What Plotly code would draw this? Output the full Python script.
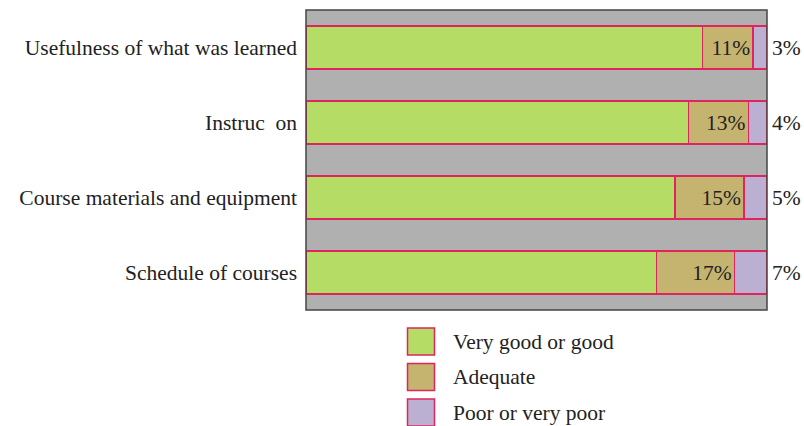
import plotly.graph_objects as go

categories = ["Usefulness of what was learned", "Instruc  on",
              "Course materials and equipment", "Schedule of courses"]
good = [86, 83, 80, 76]
adequate = [11, 13, 15, 17]
poor = [3, 4, 5, 7]
series_names = ["Very good or good", "Adequate", "Poor or very poor"]
colors = ["#b5dd66", "#c5b46f", "#bcb0d2"]
edge = "#e0245e"
FONT = "Liberation Serif"
FS = 21.5

W, H = 804, 426
L, R, T, B = 306, 37, 10, 116
pw, ph = W - L - R, H - T - B

def px(x):
    return (x - L) / pw

def py(y):
    return (H - B - y) / ph

fig = go.Figure()
fig.add_trace(go.Bar(y=categories, x=good, orientation="h", name=series_names[0],
                     marker=dict(color=colors[0], line=dict(color=edge, width=1.5)),
                     hoverinfo="x+y"))
fig.add_trace(go.Bar(y=categories, x=adequate, orientation="h", name=series_names[1],
                     marker=dict(color=colors[1], line=dict(color=edge, width=1.5)),
                     text=[f"{v}%" for v in adequate], textposition="inside",
                     insidetextanchor="end", constraintext="none",
                     textfont=dict(family=FONT, size=FS, color="#222")))
fig.add_trace(go.Bar(y=categories, x=poor, orientation="h", name=series_names[2],
                     marker=dict(color=colors[2], line=dict(color=edge, width=1.5))))

for c, v in zip(categories, poor):
    fig.add_annotation(x=100, y=c, xref="x", yref="y", text=f"{v}%", showarrow=False,
                       xanchor="left", xshift=3, font=dict(family=FONT, size=FS, color="#222"))

# plot frame
fig.add_shape(type="rect", xref="paper", yref="paper", x0=0, x1=1, y0=0, y1=1,
              line=dict(color="#444", width=1.5), layer="above")

# manual legend
for i, (n, c) in enumerate(zip(series_names, colors)):
    top = 328 + 35.5 * i
    fig.add_shape(type="rect", xref="paper", yref="paper",
                  x0=px(407.5), x1=px(434.5), y0=py(top + 27), y1=py(top),
                  fillcolor=c, line=dict(color=edge, width=1.5))
    fig.add_annotation(xref="paper", yref="paper", x=px(451), y=py(top + 13.5),
                       text=n, showarrow=False, xanchor="left", yanchor="middle",
                       font=dict(family=FONT, size=FS, color="#222"))

fig.update_layout(
    width=W, height=H, barmode="stack", bargap=0.43, showlegend=False,
    margin=dict(l=L, r=R, t=T, b=B, autoexpand=False),
    plot_bgcolor="#b0b0b0", paper_bgcolor="white",
    xaxis=dict(range=[0, 100], visible=False, showgrid=False, automargin=False),
    yaxis=dict(autorange="reversed", showgrid=False, ticks="", automargin=False,
               tickfont=dict(family=FONT, size=FS, color="#222"), ticklabelstandoff=8),
)
fig.write_html("out.html", config={"displayModeBar": False},
               post_script="document.body.style.margin='0';document.body.style.overflow='hidden';")
